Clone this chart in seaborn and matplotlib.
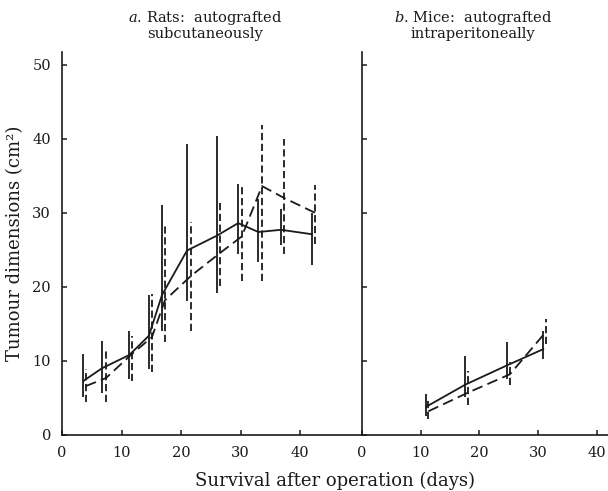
import matplotlib
matplotlib.use("Agg")
from matplotlib import pyplot as plt
import pandas as pd
import seaborn as sns

# a. rats, solid series
rat_solid_x = [3.6, 6.7, 11.3, 14.6, 16.8, 21.0, 26.0, 29.6, 33.0, 36.8, 42.0]
rat_solid_y = [7.3, 9.0, 10.8, 13.4, 18.9, 24.9, 26.9, 28.6, 27.4, 27.7, 27.1]
rat_solid_lo = [5.1, 5.7, 7.5, 8.9, 14.0, 18.1, 19.2, 24.5, 23.3, 25.6, 22.9]
rat_solid_hi = [11.0, 12.7, 14.0, 18.9, 31.0, 39.3, 40.4, 33.9, 31.8, 30.5, 29.9]

# a. rats, dashed series
rat_dash_x = [4.0, 7.4, 11.7, 15.1, 17.3, 21.7, 26.6, 30.2, 33.6, 37.3, 42.5]
rat_dash_y = [6.6, 7.7, 10.9, 13.2, 18.2, 21.5, 24.6, 26.8, 33.6, 32.0, 30.0]
rat_dash_lo = [4.4, 4.4, 7.3, 8.5, 12.6, 14.0, 20.1, 20.8, 20.8, 24.4, 25.8]
rat_dash_hi = [8.9, 11.6, 13.3, 19.0, 28.3, 28.8, 31.7, 33.9, 41.8, 40.0, 33.8]

# b. mice
mice_solid_x = [10.9, 17.6, 24.7, 30.9]
mice_solid_y = [3.8, 6.8, 9.4, 11.6]
mice_solid_lo = [2.5, 5.1, 7.5, 10.3]
mice_solid_hi = [5.5, 10.7, 12.6, 14.1]

mice_dash_x = [11.3, 18.0, 25.2, 31.3]
mice_dash_y = [3.2, 5.7, 8.2, 13.9]
mice_dash_lo = [2.1, 4.1, 6.8, 12.3]
mice_dash_hi = [4.8, 8.6, 9.9, 15.7]

titles = ["$\\it{a}$. Rats:  autografted\nsubcutaneously",
          "$\\it{b}$. Mice:  autografted\nintraperitoneally"]
yticks = [0, 10, 20, 30, 40, 50]
xticks = [0, 10, 20, 30, 40]

sns.set_style("ticks")
plt.rcParams["font.family"] = ["DejaVu Serif"]
plt.rcParams["mathtext.fontset"] = "dejavuserif"


def make_df(x, y, lo, hi, kind):
    return pd.DataFrame({"day": x, "size": y, "lo": lo, "hi": hi, "kind": kind})


rats = pd.concat([make_df(rat_solid_x, rat_solid_y, rat_solid_lo, rat_solid_hi, "solid"),
                  make_df(rat_dash_x, rat_dash_y, rat_dash_lo, rat_dash_hi, "dashed")])
mice = pd.concat([make_df(mice_solid_x, mice_solid_y, mice_solid_lo, mice_solid_hi, "solid"),
                  make_df(mice_dash_x, mice_dash_y, mice_dash_lo, mice_dash_hi, "dashed")])

fig = plt.figure(figsize=(6.08, 4.91), dpi=100)
ax1 = fig.add_axes([62 / 608, 1 - 435 / 491, 300 / 608, 383 / 491])
ax2 = fig.add_axes([362 / 608, 1 - 435 / 491, 246 / 608, 383 / 491])

dashes = {"solid": "", "dashed": (6, 3)}
for ax, df, xmax, title, tx in [(ax1, rats, 50.4, titles[0], 0.477),
                                (ax2, mice, 41.9, titles[1], 0.45)]:
    sns.lineplot(data=df, x="day", y="size", style="kind", dashes=dashes,
                 color="#1a1a1a", lw=1.3, ax=ax, legend=False, sort=False,
                 estimator=None)
    for kind, ls in [("solid", "-"), ("dashed", (0, (4, 2)))]:
        d = df[df["kind"] == kind]
        ax.vlines(d["day"], d["lo"], d["hi"], colors="#1a1a1a", lw=1.3,
                  linestyles=[ls])
    ax.set_xlim(0, xmax)
    ax.set_ylim(0, 51.7)
    ax.set_xticks(xticks)
    ax.set_yticks(yticks)
    ax.set_xlabel("")
    ax.set_ylabel("")
    sns.despine(ax=ax)
    for s in ["left", "bottom"]:
        ax.spines[s].set_linewidth(1.2)
        ax.spines[s].set_color("#1a1a1a")
    ax.tick_params(direction="in", length=3.8, width=1.1, labelsize=10.5,
                   colors="#1a1a1a", pad=8, left=True, bottom=True,
                   right=False, top=False)
    ax.set_title(title, x=tx, fontsize=10.5, linespacing=1.0, pad=10,
                 color="#1a1a1a")
    ax.patch.set_alpha(0)

ax2.tick_params(axis="y", labelleft=False)
ax1.set_ylabel("Tumour dimensions (cm²)", fontsize=13, color="#1a1a1a",
               labelpad=6)
fig.text(335 / 608, 1 - 481 / 491, "Survival after operation (days)",
         ha="center", va="center", fontsize=13, color="#1a1a1a")

fig.savefig("out.png", dpi=100)
